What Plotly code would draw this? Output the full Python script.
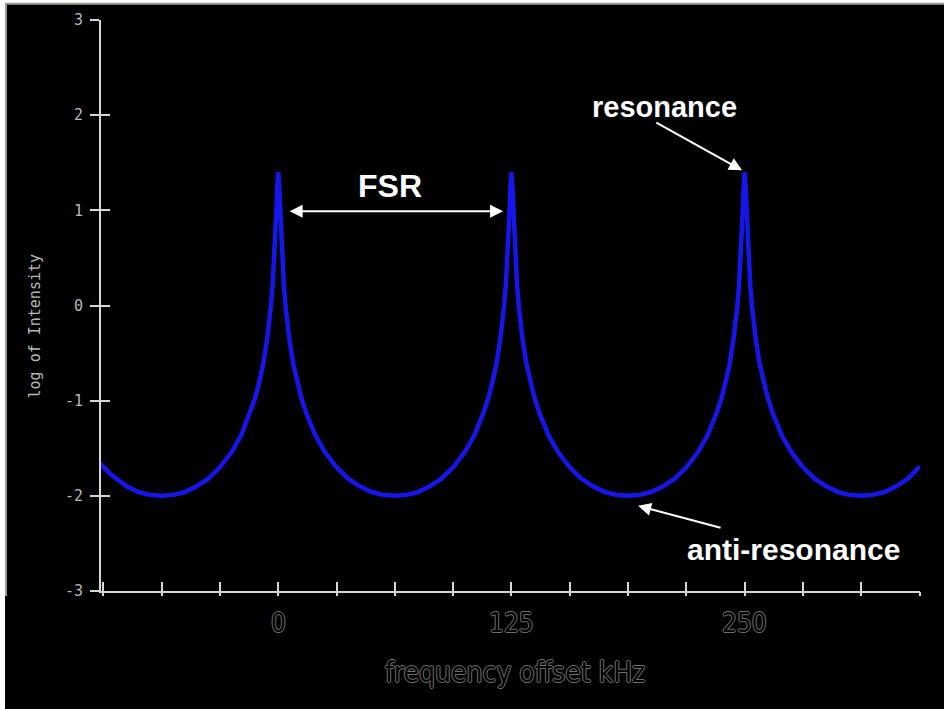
import plotly.graph_objects as go

# ---------------- data ----------------
freq_khz = [
    -96, -90, -81.25, -75, -68.75, -62.5, -56.25, -50, -43.75, -37.5,
    -31.25, -25, -20, -15, -12.5, -10, -8, -6, -5, -4,
    -3, -2, -1.5, -1, -0.5, 0,
    0.5, 1, 1.5, 2, 3, 4, 5, 6, 8, 10,
    12.5, 15, 20, 25, 31.25, 37.5, 43.75, 50, 56.25, 62.5,
    68.75, 75, 81.25, 87.5, 93.75, 100, 105, 110, 112.5, 115,
    117, 119, 120, 121, 122, 123, 123.5, 124, 124.5, 125,
    125.5, 126, 126.5, 127, 128, 129, 130, 131, 133, 135,
    137.5, 140, 145, 150, 156.25, 162.5, 168.75, 175, 181.25, 187.5,
    193.75, 200, 206.25, 212.5, 218.75, 225, 230, 235, 237.5, 240,
    242, 244, 245, 246, 247, 248, 248.5, 249, 249.5, 250,
    250.5, 251, 251.5, 252, 253, 254, 255, 256, 258, 260,
    262.5, 265, 270, 275, 281.25, 287.5, 293.75, 300, 306.25, 312.5,
    318.75, 325, 331.25, 337.5, 344,
]

log_intensity = [
    -1.65, -1.77, -1.90, -1.96, -1.99, -2.00, -1.99, -1.96, -1.90, -1.82,
    -1.70, -1.54, -1.37, -1.13, -0.98, -0.79, -0.61, -0.36, -0.21, -0.02,
    0.22, 0.53, 0.74, 0.99, 1.26, 1.40,
    1.26, 0.99, 0.74, 0.53, 0.22, -0.02, -0.21, -0.36, -0.61, -0.79,
    -0.98, -1.13, -1.37, -1.54, -1.70, -1.82, -1.90, -1.96, -1.99, -2.00,
    -1.99, -1.96, -1.90, -1.82, -1.70, -1.54, -1.37, -1.13, -0.98, -0.79,
    -0.61, -0.36, -0.21, -0.02, 0.22, 0.53, 0.74, 0.99, 1.26, 1.40,
    1.26, 0.99, 0.74, 0.53, 0.22, -0.02, -0.21, -0.36, -0.61, -0.79,
    -0.98, -1.13, -1.37, -1.54, -1.70, -1.82, -1.90, -1.96, -1.99, -2.00,
    -1.99, -1.96, -1.90, -1.82, -1.70, -1.54, -1.37, -1.13, -0.98, -0.79,
    -0.61, -0.36, -0.21, -0.02, 0.22, 0.53, 0.74, 0.99, 1.26, 1.40,
    1.26, 0.99, 0.74, 0.53, 0.22, -0.02, -0.21, -0.36, -0.61, -0.79,
    -0.98, -1.13, -1.37, -1.54, -1.70, -1.82, -1.90, -1.96, -1.99, -2.00,
    -1.99, -1.96, -1.90, -1.82, -1.69,
]

x_tick_vals = [-93.75, -62.5, -31.25, 0, 31.25, 62.5, 93.75, 125, 156.25,
               187.5, 218.75, 250, 281.25, 312.5, 343.75]
x_label_vals = [0, 125, 250]
x_label_text = ["0", "125", "250"]
y_tick_vals = [3, 2, 1, 0, -1, -2, -3]
y_tick_text = ["3", "2", "1", "0", "-1", "-2", "-3"]

x_title = "frequency offset kHz"
y_title = "log of Intensity"

# ---------------- styling ----------------
AXIS = "#d6d6d6"
GRAY_TXT = "#b8b8b8"
OUT = "#6e6e6e"
HOLLOW = ("1px 0px 0px %s, -1px 0px 0px %s, 0px 1px 0px %s, 0px -1px 0px %s"
          % (OUT, OUT, OUT, OUT))
NARROW = "Liberation Sans Narrow, DejaVu Sans Condensed, Arial Narrow, sans-serif"
BOLD = "Liberation Sans, Arial, Helvetica, sans-serif"
MONO = "DejaVu Sans Mono, monospace"

fig = go.Figure()
fig.add_trace(go.Scatter(
    x=freq_khz, y=log_intensity, mode="lines",
    line=dict(color="#1616ea", width=4.5),
    showlegend=False, hoverinfo="skip",
))
# helper trace so the overlay axes (crossing tick marks) are drawn
fig.add_trace(go.Scatter(x=[None], y=[None], xaxis="x2", yaxis="y2",
                         showlegend=False, hoverinfo="skip"))

annotations = []
for v, t in zip(x_label_vals, x_label_text):
    annotations.append(dict(
        x=v, y=-0.056, xref="x", yref="paper", text=t, showarrow=False,
        font=dict(family=NARROW, size=26, color="#000000", shadow=HOLLOW),
        xanchor="center", yanchor="middle"))
annotations.append(dict(
    x=0.505, y=-0.142, xref="paper", yref="paper", text=x_title,
    showarrow=False,
    font=dict(family=NARROW, size=28, color="#000000", shadow=HOLLOW),
    xanchor="center", yanchor="middle"))
annotations.append(dict(
    x=-0.0806, y=0.465, xref="paper", yref="paper", text=y_title,
    showarrow=False, textangle=-90,
    font=dict(family=MONO, size=15, color=GRAY_TXT),
    xanchor="center", yanchor="middle"))

# text labels
for txt, xx, yy, sz in [("FSR", 59.9, 1.26, 32),
                        ("resonance", 207.3, 2.09, 29),
                        ("anti-resonance", 276.4, -2.56, 30)]:
    annotations.append(dict(
        x=xx, y=yy, xref="x", yref="y", text="<b>%s</b>" % txt,
        showarrow=False, font=dict(family=BOLD, size=sz, color="#ffffff"),
        xanchor="center", yanchor="middle"))

# arrows
annotations.append(dict(
    x=120.5, y=0.99, ax=5.3, ay=0.99, xref="x", yref="y", axref="x", ayref="y",
    text="", showarrow=True, arrowhead=2, startarrowhead=2, arrowside="end+start",
    arrowsize=1.3, startarrowsize=1.3, arrowwidth=2, arrowcolor="#ffffff"))
annotations.append(dict(
    x=248.6, y=1.42, ax=201.9, ay=1.93, xref="x", yref="y", axref="x", ayref="y",
    text="", showarrow=True, arrowhead=2, arrowsize=1.3, arrowwidth=2,
    arrowcolor="#ffffff"))
annotations.append(dict(
    x=192.9, y=-2.105, ax=237.9, ay=-2.34, xref="x", yref="y", axref="x", ayref="y",
    text="", showarrow=True, arrowhead=2, arrowsize=1.3, arrowwidth=2,
    arrowcolor="#ffffff"))

shapes = [
    dict(type="rect", xref="paper", yref="paper", x0=-0.1172, x1=1.06,
         y0=-0.25, y1=1.0298, fillcolor="#000000", line=dict(width=0),
         layer="below"),
    dict(type="line", xref="paper", yref="paper", x0=-0.1160, x1=-0.1160,
         y0=-0.0088, y1=1.0298, line=dict(color="#9a9a9a", width=2),
         layer="below"),
    dict(type="line", xref="paper", yref="paper", x0=-0.1172, x1=1.06,
         y0=1.0285, y1=1.0285, line=dict(color="#9a9a9a", width=2),
         layer="below"),
]

common_x = dict(range=[-95, 344], tickvals=x_tick_vals, showgrid=False,
                zeroline=False, showticklabels=False, tickcolor=AXIS,
                tickwidth=2, fixedrange=True)
common_y = dict(range=[-3, 3], tickvals=y_tick_vals, showgrid=False,
                zeroline=False, tickcolor=AXIS, tickwidth=2, fixedrange=True)

fig.update_layout(
    width=944, height=709,
    margin=dict(l=101, r=24, t=20, b=118, pad=0),
    paper_bgcolor="#ffffff", plot_bgcolor="#000000",
    xaxis=dict(**common_x, ticks="inside", ticklen=9, showline=True,
               linecolor=AXIS, linewidth=2),
    xaxis2=dict(**common_x, overlaying="x", anchor="y", side="bottom",
                ticks="outside", ticklen=4, showline=False),
    yaxis=dict(**common_y, ticktext=y_tick_text, ticks="outside", ticklen=9,
               showline=True, linecolor=AXIS, linewidth=2,
               tickfont=dict(family=MONO, size=15, color=GRAY_TXT),
               ticklabelstandoff=4),
    yaxis2=dict(**common_y, overlaying="y", anchor="x", side="left",
                ticks="inside", ticklen=9, showline=False,
                showticklabels=False),
    annotations=annotations,
    shapes=shapes,
    showlegend=False,
)

fig.write_html("out.html",
               config={"displayModeBar": False},
               post_script="document.body.style.margin='0';"
                           "document.body.style.overflow='hidden';")
